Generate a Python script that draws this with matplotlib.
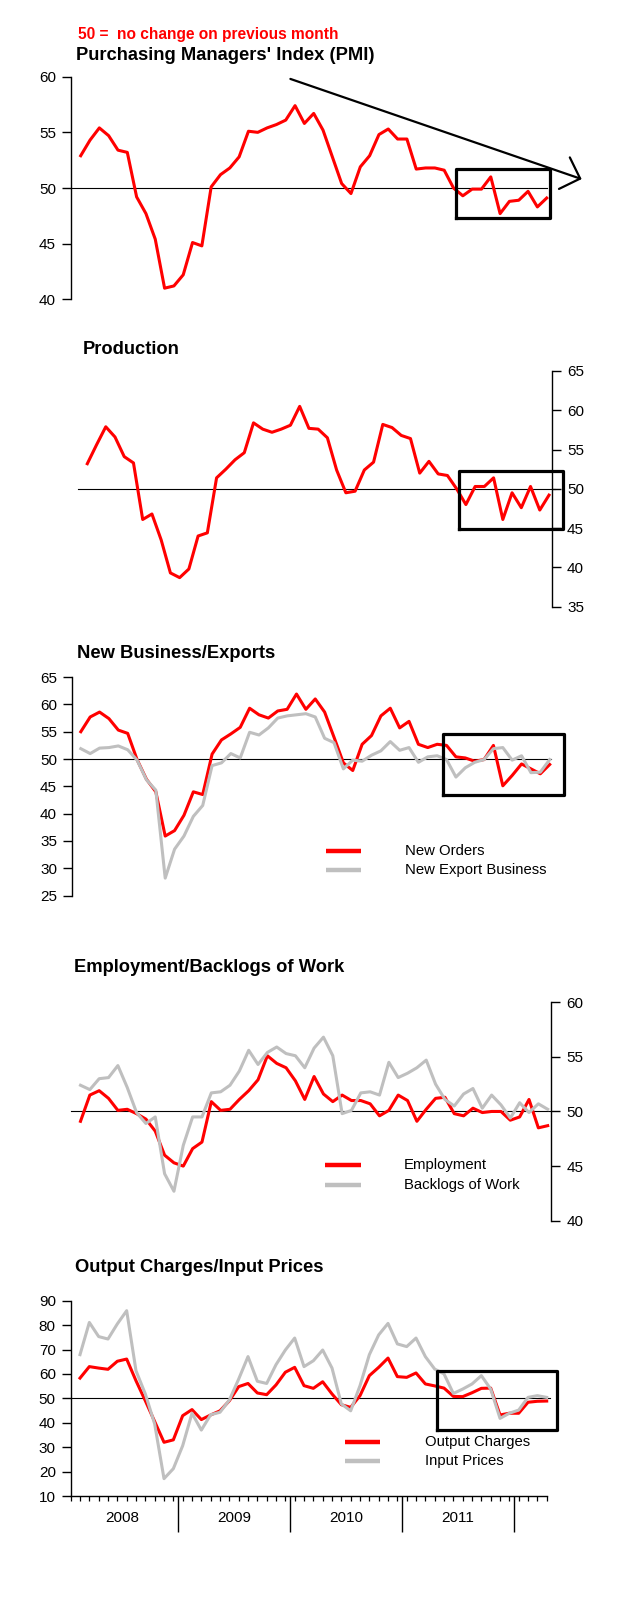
import numpy as np
import matplotlib
matplotlib.use('Agg')
import matplotlib.pyplot as plt

plt.rcParams['font.family'] = ['Liberation Sans', 'DejaVu Sans']

W, H = 617, 1600
RED = '#ff0000'
GREY = '#bfbfbf'

# monthly survey readings, Feb 2008 .. Apr 2012
pmi = [52.9, 54.3, 55.4, 54.7, 53.4, 53.2, 49.2, 47.7, 45.4, 41.0,
       41.2, 42.2, 45.1, 44.8, 50.1, 51.2, 51.8, 52.8, 55.1, 55.0,
       55.4, 55.7, 56.1, 57.4, 55.8, 56.7, 55.2, 52.8, 50.4, 49.5,
       51.9, 52.9, 54.8, 55.3, 54.4, 54.4, 51.7, 51.8, 51.8, 51.6,
       50.0, 49.3, 49.9, 49.9, 51.0, 47.7, 48.8, 48.9, 49.7, 48.3, 49.1]
production = [53.2, 55.6, 57.9, 56.6, 54.1, 53.3, 46.1, 46.8, 43.5, 39.3,
              38.7, 39.8, 44.0, 44.4, 51.4, 52.5, 53.7, 54.6, 58.4, 57.6,
              57.2, 57.6, 58.1, 60.5, 57.7, 57.6, 56.5, 52.4, 49.5, 49.7,
              52.4, 53.4, 58.2, 57.8, 56.8, 56.4, 52.0, 53.5, 51.9, 51.7,
              50.0, 48.0, 50.3, 50.3, 51.4, 46.1, 49.5, 47.6, 50.3, 47.3, 49.2]
new_orders = [55.0, 57.7, 58.6, 57.4, 55.3, 54.7, 49.9, 46.3, 44.0, 35.9,
              36.9, 39.7, 44.0, 43.5, 50.9, 53.5, 54.6, 55.8, 59.3, 58.1,
              57.5, 58.8, 59.1, 61.9, 59.1, 61.0, 58.6, 54.0, 49.3, 47.9,
              52.7, 54.3, 57.9, 59.3, 55.7, 56.9, 52.7, 52.1, 52.7, 52.5,
              50.4, 50.2, 49.6, 49.9, 52.5, 45.1, 47.0, 49.1, 48.2, 47.3, 49.0]
new_export = [51.9, 51.0, 52.0, 52.1, 52.4, 51.7, 49.8, 46.2, 44.3, 28.2,
              33.5, 35.9, 39.5, 41.5, 48.8, 49.3, 51.0, 50.2, 54.9, 54.4,
              55.7, 57.5, 57.9, 58.1, 58.3, 57.7, 53.8, 53.0, 48.2, 49.8,
              49.6, 50.7, 51.5, 53.2, 51.6, 52.1, 49.4, 50.4, 50.6, 49.9,
              46.7, 48.4, 49.4, 49.9, 51.9, 52.1, 49.8, 50.6, 47.5, 47.6, 49.9]
employment = [49.1, 51.5, 51.9, 51.2, 50.1, 50.2, 49.8, 49.3, 48.2, 46.0,
              45.3, 45.0, 46.6, 47.2, 50.9, 50.1, 50.2, 51.1, 51.9, 52.9,
              55.1, 54.4, 54.0, 52.8, 51.1, 53.2, 51.6, 50.9, 51.5, 51.0,
              51.0, 50.7, 49.6, 50.1, 51.5, 51.0, 49.1, 50.2, 51.2, 51.3,
              49.8, 49.6, 50.3, 49.9, 50.0, 50.0, 49.2, 49.5, 51.1, 48.5, 48.7]
backlogs = [52.4, 52.0, 53.0, 53.1, 54.2, 52.2, 49.9, 48.9, 49.5, 44.3,
            42.7, 46.9, 49.5, 49.5, 51.7, 51.8, 52.4, 53.7, 55.6, 54.3,
            55.4, 55.9, 55.3, 55.1, 54.0, 55.8, 56.8, 55.1, 49.8, 50.1,
            51.7, 51.8, 51.5, 54.5, 53.1, 53.5, 54.0, 54.7, 52.5, 51.1,
            50.5, 51.6, 52.1, 50.3, 51.5, 50.6, 49.4, 50.8, 49.9, 50.7, 50.2]
output_charges = [58.3, 63.0, 62.4, 61.9, 65.2, 66.1, 57.2, 49.0, 40.5, 32.0,
                  33.0, 42.9, 45.4, 41.3, 43.2, 44.9, 49.0, 54.8, 56.1, 52.2,
                  51.5, 55.5, 60.7, 62.7, 55.2, 54.1, 56.8, 51.8, 47.4, 46.3,
                  51.1, 59.3, 62.7, 66.5, 58.9, 58.6, 60.4, 55.9, 55.1, 54.2,
                  50.8, 50.7, 52.3, 54.1, 54.2, 43.2, 43.9, 43.9, 48.4, 48.8, 48.9]
input_prices = [67.9, 81.1, 75.3, 74.3, 80.5, 85.9, 61.3, 51.8, 39.5, 17.1,
                21.2, 30.6, 43.9, 37.0, 43.3, 44.3, 49.3, 57.9, 67.1, 57.0,
                56.1, 63.8, 69.8, 74.7, 63.0, 65.4, 69.8, 62.4, 47.7, 44.9,
                55.2, 67.9, 76.0, 80.7, 72.3, 71.2, 74.7, 67.1, 62.0, 60.0,
                52.0, 53.8, 55.9, 59.3, 53.8, 41.8, 43.9, 45.2, 50.4, 51.1, 50.4]

years = ['2008', '2009', '2010', '2011']
months = np.arange(len(pmi))

fig = plt.figure(figsize=(W / 100, H / 100), dpi=100)


def panel(x0, x50, va, ya, vb, yb, top, bot):
    # axes spanning full width; limits chosen so the data sits where the
    # reference has it (pixel calibration per panel)
    ax = fig.add_axes([0, 1 - bot / H, 1, (bot - top) / H])
    dx = (x50 - x0) / 50.0
    ax.set_xlim((0 - x0) / dx, (W - x0) / dx)
    s = (yb - ya) / (va - vb)
    ax.set_ylim(va - (bot - ya) / s, va - (top - ya) / s)
    ax.patch.set_alpha(0)
    for sp in ax.spines.values():
        sp.set_visible(False)
    ax.set_xticks([])
    ax.set_yticks([])
    return ax


def yaxis(ax, side, xpos, lo, hi, step):
    sp = ax.spines[side]
    sp.set_visible(True)
    sp.set_position(('data', xpos))
    sp.set_bounds(lo, hi)
    sp.set_linewidth(1.0)
    ticks = np.arange(lo, hi + 0.1, step)
    ax.set_yticks(ticks)
    ax.set_yticklabels([str(int(t)) for t in ticks])
    if side == 'right':
        ax.yaxis.tick_right()
    ax.tick_params(axis='y', length=6.5, width=1.0, pad=4.5, labelsize=11)


def box(ax, x1, x2, y1, y2):
    ax.plot([x1, x2, x2, x1, x1], [y1, y1, y2, y2, y1], color='black',
            lw=2.3, clip_on=False, zorder=5)


def legend(ax, labels, y_vals, xl1, xl2, xt):
    for lab, yv, c in zip(labels, y_vals, [RED, GREY]):
        ax.plot([xl1, xl2], [yv, yv], color=c, lw=3.2, solid_capstyle='butt',
                clip_on=False)
        ax.text(xt, yv, lab, fontsize=10.7, va='center', ha='left')


def title(x, y, s):
    fig.text(x / W, 1 - y / H, s, fontsize=13.2, fontweight='bold',
             ha='left', va='center')


# ---- panel 1: PMI ----
fig.text(78 / W, 1 - 34 / H, '50 =  no change on previous month', color=RED,
         fontsize=11.2, fontweight='bold', ha='left', va='center')
title(76, 55, "Purchasing Managers' Index (PMI)")
ax1 = panel(80.7, 546.7, 60, 76.7, 40, 299.3, 60, 320)
yaxis(ax1, 'left', -1, 40, 60, 5)
ax1.plot([-1, 50], [50, 50], color='black', lw=0.8)
ax1.plot(months, pmi, color=RED, lw=2.2)
box(ax1, 40.3, 50.4, 47.3, 51.7)
ax1.annotate('', xy=(53.75, 50.8), xytext=(22.5, 59.8),
             arrowprops=dict(arrowstyle='->,head_length=1.0,head_width=1.0',
                             lw=1.6, color='black', mutation_scale=12,
                             shrinkA=0, shrinkB=0),
             annotation_clip=False)

# ---- panel 2: Production ----
title(83, 350, 'Production')
ax2 = panel(87.3, 549.0, 65, 371.0, 35, 606.7, 360, 620)
yaxis(ax2, 'right', 50.3, 35, 65, 5)
ax2.plot([-1.04, 50.7], [50, 50], color='black', lw=0.8)
ax2.plot(months, production, color=RED, lw=2.2)
box(ax2, 40.2, 51.55, 44.9, 52.3)

# ---- panel 3: New Business/Exports ----
title(77, 653, 'New Business/Exports')
ax3 = panel(80.8, 549.7, 65, 677.1, 25, 895.6, 665, 905)
yaxis(ax3, 'left', -0.9, 25, 65, 5)
ax3.plot([-0.9, 50.15], [50, 50], color='black', lw=0.8)
ax3.plot(months, new_orders, color=RED, lw=2.2)
ax3.plot(months, new_export, color=GREY, lw=2.2)
box(ax3, 38.6, 51.5, 43.4, 54.6)
legend(ax3, ['New Orders', 'New Export Business'], [33.2, 29.7], 26.1, 29.9, 34.6)

# ---- panel 4: Employment/Backlogs of Work ----
title(74, 968, 'Employment/Backlogs of Work')
ax4 = panel(80.5, 547.7, 60, 1002.2, 45, 1166.1, 985, 1230)
yaxis(ax4, 'right', 50.4, 40, 60, 5)
ax4.plot([-1.02, 50.2], [50, 50], color='black', lw=0.8)
ax4.plot(months, employment, color=RED, lw=2.2)
ax4.plot(months, backlogs, color=GREY, lw=2.2)
legend(ax4, ['Employment', 'Backlogs of Work'], [45.1, 43.3], 26.2, 30.0, 34.6)

# ---- panel 5: Output Charges/Input Prices ----
title(75, 1267, 'Output Charges/Input Prices')
ax5 = panel(80.0, 546.7, 90, 1300.7, 10, 1496.0, 1285, 1545)
yaxis(ax5, 'left', -0.96, 10, 90, 10)
ax5.plot([-0.96, 50.3], [50, 50], color='black', lw=0.8)
ax5.plot(months, output_charges, color=RED, lw=2.2)
ax5.plot(months, input_prices, color=GREY, lw=2.2)
box(ax5, 38.2, 51.1, 37.2, 61.4)
legend(ax5, ['Output Charges', 'Input Prices'], [32.0, 24.5], 28.4, 32.1, 37.0)

# month ticks and year ticks on the bottom axis
bsp = ax5.spines['bottom']
bsp.set_visible(True)
bsp.set_position(('data', 10))
bsp.set_bounds(-1, 50)
bsp.set_linewidth(1.0)
year_edges = [10.5, 22.5, 34.5, 46.5]
ax5.set_xticks(year_edges)
ax5.set_xticklabels([])
ax5.set_xticks(np.arange(-1, 51), minor=True)
ax5.tick_params(axis='x', which='major', length=26, width=1.0)
ax5.tick_params(axis='x', which='minor', length=3.6, width=0.9)
for i, yr in enumerate(years):
    ax5.text(4.5 + 12 * i, 1.0, yr, fontsize=11, ha='center', va='center')

fig.savefig('out.png', dpi=100)
